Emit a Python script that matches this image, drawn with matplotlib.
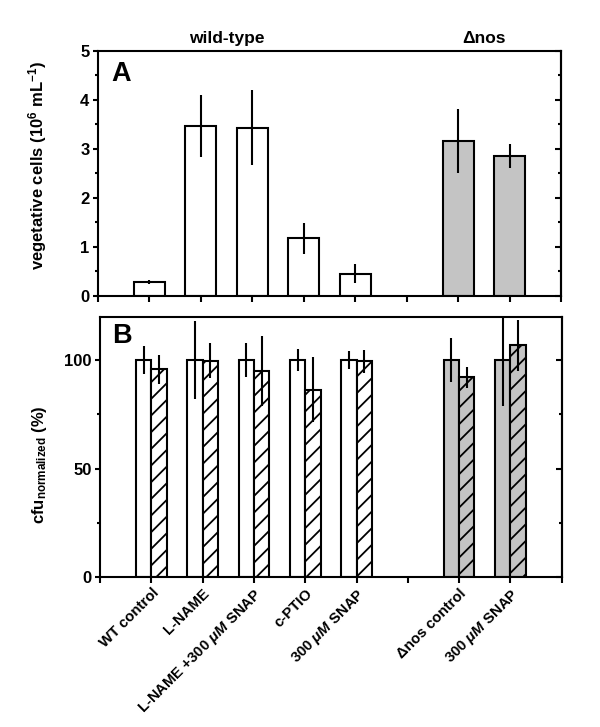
import numpy as np
import matplotlib
matplotlib.use('Agg')
import matplotlib.pyplot as plt
from matplotlib.ticker import MultipleLocator

plt.rcParams['font.family'] = ['Liberation Sans', 'DejaVu Sans']
plt.rcParams['font.weight'] = 'bold'
plt.rcParams['axes.labelweight'] = 'bold'
plt.rcParams['font.size'] = 10
plt.rcParams['mathtext.fontset'] = 'custom'
plt.rcParams['mathtext.rm'] = 'Liberation Sans:bold'
plt.rcParams['mathtext.it'] = 'Liberation Sans:italic:bold'
plt.rcParams['mathtext.default'] = 'regular'
plt.rcParams['hatch.linewidth'] = 1.3
plt.rcParams['axes.linewidth'] = 1.5

# data
positions = [1, 2, 3, 4, 5, 7, 8]
labels = ['WT control', 'L-NAME', r'L-NAME +300 $\mathit{μM}$ SNAP', 'c-PTIO',
          r'300 $\mathit{μM}$ SNAP', 'Δnos control', r'300 $\mathit{μM}$ SNAP']
colors = ['white'] * 5 + ['#c4c4c4'] * 2

veg_cells = [0.27, 3.47, 3.43, 1.17, 0.45, 3.16, 2.85]
veg_err = [0.04, 0.63, 0.77, 0.31, 0.20, 0.65, 0.24]

cfu_ctrl = [100, 100, 100, 100, 100, 100, 100]
cfu_ctrl_err = [6.5, 18, 7.8, 5, 4.3, 10.2, 21]
cfu_trt = [95.7, 99.8, 95, 86.3, 99.4, 92, 106.8]
cfu_trt_err = [6.6, 8, 16, 15, 5.3, 5, 11.7]

fig = plt.figure(figsize=(6, 7.27), dpi=100)
ax1 = fig.add_axes([0.163, 0.5933, 0.772, 0.337])
ax2 = fig.add_axes([0.167, 0.2063, 0.769, 0.358])

x = np.array(positions)

# panel A
ax1.bar(x, veg_cells, width=0.6, color=colors, edgecolor='black', linewidth=1.5, zorder=2)
ax1.errorbar(x, veg_cells, yerr=veg_err, fmt='none', ecolor='black', elinewidth=1.5,
             capsize=0, zorder=3)
ax1.set_ylim(0, 5)
ax1.set_ylabel('vegetative cells (10$^{6}$ mL$^{-1}$)', fontsize=12)
ax1.yaxis.set_label_coords(-0.105, 0.53)
ax1.text(0.03, 0.905, 'A', transform=ax1.transAxes, fontsize=19.5, fontweight='bold',
         va='center', ha='left')
ax1.text(2.5, 5.1, 'wild-type', ha='center', va='bottom', fontsize=12.5)
ax1.text(7.5, 5.1, 'Δnos', ha='center', va='bottom', fontsize=12.5)

# panel B
w = 0.3
ax2.bar(x - w / 2, cfu_ctrl, width=w, color=colors, edgecolor='black', linewidth=1.5, zorder=2)
ax2.bar(x + w / 2, cfu_trt, width=w, color=colors, edgecolor='black', linewidth=1.5,
        hatch='//', zorder=2)
ax2.errorbar(x - w / 2, cfu_ctrl, yerr=cfu_ctrl_err, fmt='none', ecolor='black',
             elinewidth=1.5, capsize=0, zorder=3)
ax2.errorbar(x + w / 2, cfu_trt, yerr=cfu_trt_err, fmt='none', ecolor='black',
             elinewidth=1.5, capsize=0, zorder=3)
ax2.set_ylim(0, 120)
ax2.set_ylabel('cfu$_{normalized}$ (%)', fontsize=12)
ax2.yaxis.set_label_coords(-0.111, 0.43)
ax2.text(0.026, 0.927, 'B', transform=ax2.transAxes, fontsize=19.5, fontweight='bold',
         va='center', ha='left')

for ax, major, minor in [(ax1, 1, 0.5), (ax2, 50, 25)]:
    ax.set_xlim(0, 9)
    ax.set_xticks(np.arange(0, 10))
    ax.set_xticklabels([])
    ax.yaxis.set_major_locator(MultipleLocator(major))
    ax.yaxis.set_minor_locator(MultipleLocator(minor))
    ax.tick_params(axis='x', direction='out', length=4.5, width=1.5, top=False)
    ax.tick_params(axis='y', which='major', direction='out', length=3.5, width=1.5,
                   labelsize=12, pad=2.5)
    ax.tick_params(axis='y', which='minor', direction='out', length=2.2, width=1.5)
    sec = ax.secondary_yaxis('right')
    sec.yaxis.set_major_locator(MultipleLocator(major))
    sec.yaxis.set_minor_locator(MultipleLocator(minor))
    sec.tick_params(which='major', direction='in', length=4, width=1.5, labelright=False)
    sec.tick_params(which='minor', direction='in', length=2.5, width=1.5)
    sec.spines['right'].set_linewidth(1.5)

for xi, lab in zip(positions, labels):
    ax2.annotate(lab, xy=(xi, 0), xycoords=('data', 'axes fraction'),
                 xytext=(0, -6.5), textcoords='offset points', rotation=45,
                 ha='right', va='top', rotation_mode='anchor', fontsize=10.7)

fig.savefig('out.png', dpi=100)
